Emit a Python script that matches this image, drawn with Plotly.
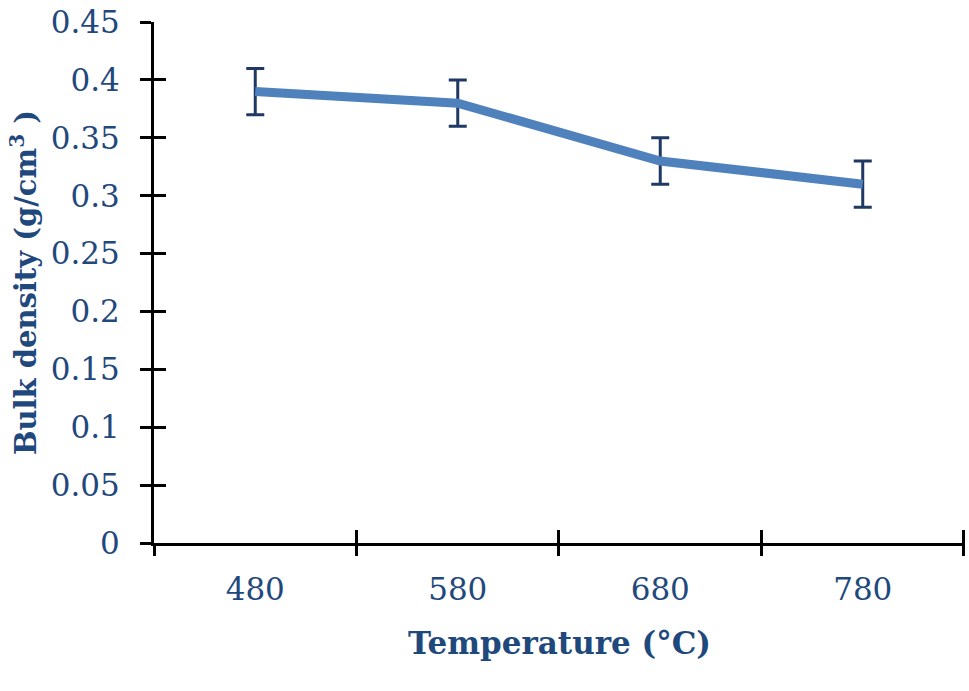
import plotly.graph_objects as go

temperatures = ["480", "580", "680", "780"]
bulk_density = [0.39, 0.38, 0.33, 0.31]
errors = [0.02, 0.02, 0.02, 0.02]
y_ticks = [0, 0.05, 0.1, 0.15, 0.2, 0.25, 0.3, 0.35, 0.4, 0.45]
y_tick_text = ["0", "0.05", "0.1", "0.15", "0.2", "0.25", "0.3", "0.35", "0.4", "0.45"]

TEXT = "#1F497D"
LINE = "#4F81BD"
ERR = "#1F3864"
FONT = "DejaVu Serif"

fig = go.Figure()
fig.add_trace(go.Scatter(
    x=temperatures, y=bulk_density, mode="lines",
    line=dict(color=LINE, width=9),
    error_y=dict(type="data", array=errors, visible=True, color=ERR, thickness=3, width=9),
    showlegend=False, hoverinfo="skip",
))
# invisible trace to carry the overlaying axes (inner tick halves)
fig.add_trace(go.Scatter(
    x=temperatures, y=bulk_density, mode="lines", opacity=0,
    xaxis="x2", yaxis="y2", showlegend=False, hoverinfo="skip",
))

XR = [-0.5, 3.505]
YR = [0, 0.4501]

fig.update_layout(
    width=969, height=691,
    margin=dict(l=154, r=4, t=22, b=148, autoexpand=False),
    plot_bgcolor="white", paper_bgcolor="white",
    font=dict(family=FONT, color=TEXT, size=31),
    xaxis=dict(
        type="category", categoryorder="array", categoryarray=temperatures,
        tickson="boundaries", ticks="outside", ticklen=10, tickwidth=3, tickcolor="black",
        showline=True, linecolor="black", linewidth=3, showgrid=False, zeroline=False,
        tickfont=dict(family=FONT, size=31, color=TEXT), ticklabelstandoff=17,
        title=dict(text="<b>Temperature (°C)</b>", font=dict(family=FONT, size=31, color=TEXT), standoff=27),
        range=XR, automargin=False,
    ),
    yaxis=dict(
        range=YR, tickvals=y_ticks, ticktext=y_tick_text,
        ticks="outside", ticklen=11, tickwidth=3, tickcolor="black",
        showline=True, linecolor="black", linewidth=3, showgrid=False, zeroline=False,
        tickfont=dict(family=FONT, size=31, color=TEXT), ticklabelstandoff=14,
        ticklabeloverflow="allow", automargin=False,
        title=dict(text="<b>Bulk density (g/cm<sup>3</sup> )</b>", font=dict(family=FONT, size=29, color=TEXT), standoff=6),
    ),
    xaxis2=dict(
        type="category", categoryorder="array", categoryarray=temperatures,
        overlaying="x", anchor="y2", side="bottom", tickson="boundaries",
        ticks="inside", ticklen=13, tickwidth=3, tickcolor="black",
        showticklabels=False, showline=False, showgrid=False, zeroline=False,
        range=XR, automargin=False,
    ),
    yaxis2=dict(
        overlaying="y", anchor="x2", side="left", range=YR, tickvals=y_ticks,
        ticks="inside", ticklen=12, tickwidth=3, tickcolor="black",
        showticklabels=False, showline=False, showgrid=False, zeroline=False,
        automargin=False,
    ),
)

fig.write_html(
    "out.html",
    config={"displayModeBar": False},
    post_script="document.body.style.margin='0';document.body.style.overflow='hidden';",
)
